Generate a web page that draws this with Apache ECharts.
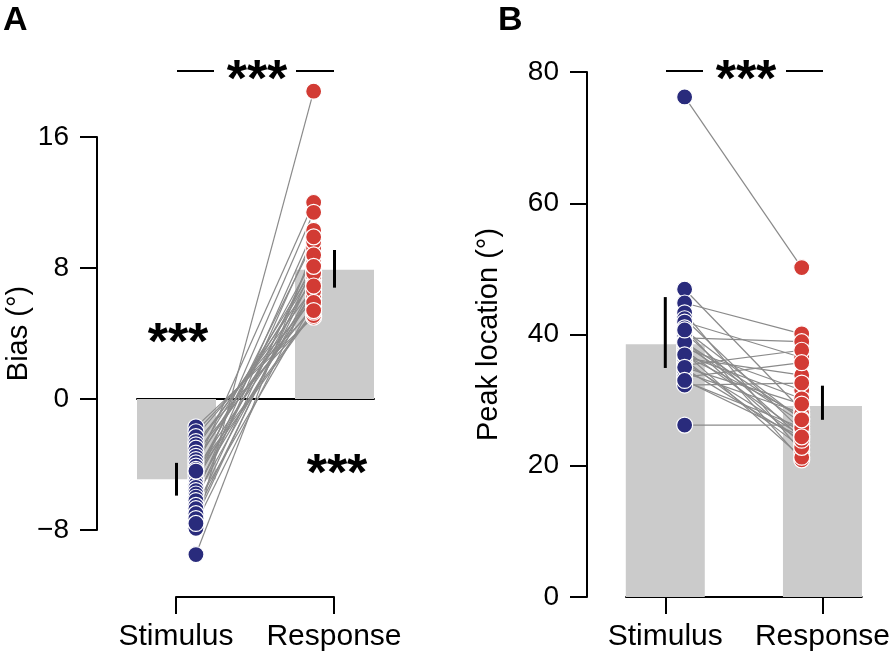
<!DOCTYPE html>
<html>
<head>
<meta charset="utf-8">
<script src="https://cdn.jsdelivr.net/npm/echarts@6/dist/echarts.min.js"></script>
<style>html,body{margin:0;padding:0;background:#fff}#c{width:893px;height:660px}</style>
</head>
<body>
<div id="c"></div>
<script>
// ---------- data ----------
const categories = ['Stimulus', 'Response'];
// Panel A: bias (°), one entry per participant (paired by index)
const biasStim = [-7.9,-9.5,-1.7,-2.0,-2.3,-2.6,-2.8,-3.0,-3.3,-3.5,-3.7,-3.9,-4.1,-4.3,-4.5,-4.6,-4.8,-5.0,-5.2,-5.4,-5.6,-5.8,-6.0,-6.2,-6.5,-6.7,-7.0,-7.3,-7.6,-4.4];
const biasResp = [18.8,9.2,5.0,5.5,6.1,5.1,6.8,7.3,5.7,8.0,6.5,7.8,12.0,6.3,8.6,5.3,9.6,7.5,11.4,6.6,8.3,10.3,7.0,9.9,5.9,8.8,7.7,8.1,6.9,5.4];
const biasMean = [-4.9, 7.9];
const biasErrLow = [-5.9, 6.8];
const biasErrHigh = [-3.9, 9.1];
const biasTicks = [-8, 0, 8, 16];
// Panel B: peak location (°)
const peakStim = [76.2,26.2,46.9,44.8,43.3,42.4,41.9,41.0,40.3,39.5,39.0,38.4,37.9,37.6,37.2,36.8,36.4,36.1,35.7,35.3,34.8,34.2,33.5,32.9,32.3,38.8,36.9,35.0,40.7,33.0];
const peakResp = [50.2,26.2,28.5,40.1,22.1,25.4,36.5,20.9,24.2,38.9,23.4,26.6,31.5,25.0,21.3,27.7,33.8,22.8,24.6,37.6,23.9,28.0,35.7,25.8,32.6,27.2,30.2,29.4,27.0,24.4];
const peakMean = [38.5, 29.1];
const peakErrLow = [34.9, 27.0];
const peakErrHigh = [45.7, 32.2];
const peakTicks = [0, 20, 40, 60, 80];

// ---------- style constants ----------
const FONT = "'Liberation Sans', Arial, Helvetica, sans-serif";
const BLUE = '#292b7c';
const RED = '#d23b34';
const BARC = '#cbcbcb';
const LINEC = '#8a8a8a';
const STIM_X = 0.123, RESP_X = 0.868;

const chart = echarts.init(document.getElementById('c'), null, {renderer: 'canvas'});

function pairRows(a, b) { return a.map((v, i) => [STIM_X, v, RESP_X, b[i]]); }
function errRows(lo, hi) { return lo.map((v, i) => [i, v, hi[i]]); }

function pairSeries(gi, a, b) {
  return {
    type: 'custom', xAxisIndex: gi, yAxisIndex: gi, clip: false, z: 2, silent: true,
    encode: {x: [0, 2], y: [1, 3]},
    data: pairRows(a, b),
    renderItem: (params, api) => {
      const p1 = api.coord([api.value(0), api.value(1)]);
      const p2 = api.coord([api.value(2), api.value(3)]);
      return {type: 'line', shape: {x1: p1[0], y1: p1[1], x2: p2[0], y2: p2[1]},
        style: {stroke: LINEC, lineWidth: 1.2}};
    }
  };
}
function errSeries(gi, lo, hi) {
  return {
    type: 'custom', xAxisIndex: gi, yAxisIndex: gi, clip: false, z: 3, silent: true,
    encode: {x: 0, y: [1, 2]},
    data: errRows(lo, hi),
    renderItem: (params, api) => {
      const p1 = api.coord([api.value(0), api.value(1)]);
      const p2 = api.coord([api.value(0), api.value(2)]);
      return {type: 'line', shape: {x1: p1[0], y1: p1[1], x2: p2[0], y2: p2[1]},
        style: {stroke: '#000', lineWidth: 3}};
    }
  };
}
function barSeries(gi, means) {
  return {type: 'bar', xAxisIndex: gi, yAxisIndex: gi, barWidth: 79, z: 1, silent: true,
    itemStyle: {color: BARC}, data: means.map((v, i) => [i, v])};
}
function dotSeries(gi, xpos, vals, color) {
  return {type: 'scatter', xAxisIndex: gi, yAxisIndex: gi, clip: false, z: 4, silent: true,
    symbolSize: 16, itemStyle: {color: color, borderColor: '#fff', borderWidth: 1.2, opacity: 1},
    data: vals.map(v => [xpos, v])};
}

const axisLineStyle = {lineStyle: {color: '#000', width: 2}};
const yTickLabel = {color: '#000', fontSize: 28, fontFamily: FONT};
const xTickLabel = {color: '#000', fontSize: 30, fontFamily: FONT};
const nameStyle = {color: '#000', fontSize: 29, fontFamily: FONT};
const fmtNum = v => (v < 0 ? '\u2212' + Math.abs(v) : String(v));
const starFont = "bold 52px " + FONT;

const option = {
  animation: false,
  backgroundColor: '#fff',
  grid: [
    {left: 137, width: 237, top: 137, height: 393},   // A data
    {left: 626, width: 237, top: 72, height: 525},    // B data
    {left: 176, width: 158, top: 540, height: 57}     // A category bracket
  ],
  xAxis: [
    {gridIndex: 0, type: 'value', min: -0.25, max: 1.25, splitLine: {show: false},
      axisLine: {show: true, onZero: true, lineStyle: {color: '#000', width: 2}},
      axisTick: {show: false}, axisLabel: {show: false}},
    {gridIndex: 1, type: 'value', min: -0.25, max: 1.25, splitLine: {show: false},
      axisLine: axisLineStyle,
      axisTick: {show: true, inside: false, length: 17, lineStyle: {color: '#000', width: 2}, customValues: [0, 1]},
      axisLabel: Object.assign({show: true, margin: 25, customValues: [0, 1],
        formatter: v => categories[Math.round(v)]}, xTickLabel)},
    {gridIndex: 2, type: 'value', min: 0, max: 1, interval: 1, splitLine: {show: false},
      axisLine: axisLineStyle,
      axisTick: {show: true, inside: false, length: 17, lineStyle: {color: '#000', width: 2}},
      axisLabel: Object.assign({show: true, margin: 25, showMinLabel: true, showMaxLabel: true,
        formatter: v => categories[Math.round(v)]}, xTickLabel)}
  ],
  yAxis: [
    {gridIndex: 0, type: 'value', min: biasTicks[0], max: biasTicks[biasTicks.length - 1], interval: 8,
      offset: 40, splitLine: {show: false},
      axisLine: {show: true, onZero: false, lineStyle: {color: '#000', width: 2}},
      axisTick: {show: true, length: 17, lineStyle: {color: '#000', width: 2}},
      axisLabel: Object.assign({margin: 28, formatter: fmtNum}, yTickLabel),
      name: 'Bias (°)', nameLocation: 'middle', nameGap: 57, nameTextStyle: nameStyle},
    {gridIndex: 1, type: 'value', min: peakTicks[0], max: peakTicks[peakTicks.length - 1], interval: 20,
      offset: 39, splitLine: {show: false},
      axisLine: {show: true, onZero: false, lineStyle: {color: '#000', width: 2}},
      axisTick: {show: true, length: 17, lineStyle: {color: '#000', width: 2}},
      axisLabel: Object.assign({margin: 28, formatter: fmtNum}, yTickLabel),
      name: 'Peak location (°)', nameLocation: 'middle', nameGap: 84, nameTextStyle: nameStyle},
    {gridIndex: 2, type: 'value', min: 0, max: 1, show: false}
  ],
  series: [
    barSeries(0, biasMean),
    pairSeries(0, biasStim, biasResp),
    errSeries(0, biasErrLow, biasErrHigh),
    dotSeries(0, STIM_X, biasStim, BLUE),
    dotSeries(0, RESP_X, biasResp, RED),
    barSeries(1, peakMean),
    pairSeries(1, peakStim, peakResp),
    errSeries(1, peakErrLow, peakErrHigh),
    dotSeries(1, STIM_X, peakStim, BLUE),
    dotSeries(1, RESP_X, peakResp, RED)
  ],
  graphic: [
    {type: 'text', left: 3, top: 4, style: {text: 'A', font: "bold 34px " + FONT, fill: '#000'}},
    {type: 'text', left: 498, top: 4, style: {text: 'B', font: "bold 34px " + FONT, fill: '#000'}},
    // significance annotations, panel A
    {type: 'line', shape: {x1: 177, y1: 71, x2: 214, y2: 71}, style: {stroke: '#000', lineWidth: 2}},
    {type: 'line', shape: {x1: 296, y1: 71, x2: 334, y2: 71}, style: {stroke: '#000', lineWidth: 2}},
    {type: 'text', x: 257, y: 82, style: {text: '***', font: starFont, fill: '#000', textAlign: 'center', textVerticalAlign: 'middle'}},
    {type: 'text', x: 178, y: 345, style: {text: '***', font: starFont, fill: '#000', textAlign: 'center', textVerticalAlign: 'middle'}},
    {type: 'text', x: 337, y: 476, style: {text: '***', font: starFont, fill: '#000', textAlign: 'center', textVerticalAlign: 'middle'}},
    // panel B
    {type: 'line', shape: {x1: 666, y1: 71, x2: 703, y2: 71}, style: {stroke: '#000', lineWidth: 2}},
    {type: 'line', shape: {x1: 786, y1: 71, x2: 823, y2: 71}, style: {stroke: '#000', lineWidth: 2}},
    {type: 'text', x: 746, y: 82, style: {text: '***', font: starFont, fill: '#000', textAlign: 'center', textVerticalAlign: 'middle'}}
  ]
};
chart.setOption(option);
</script>
</body>
</html>
